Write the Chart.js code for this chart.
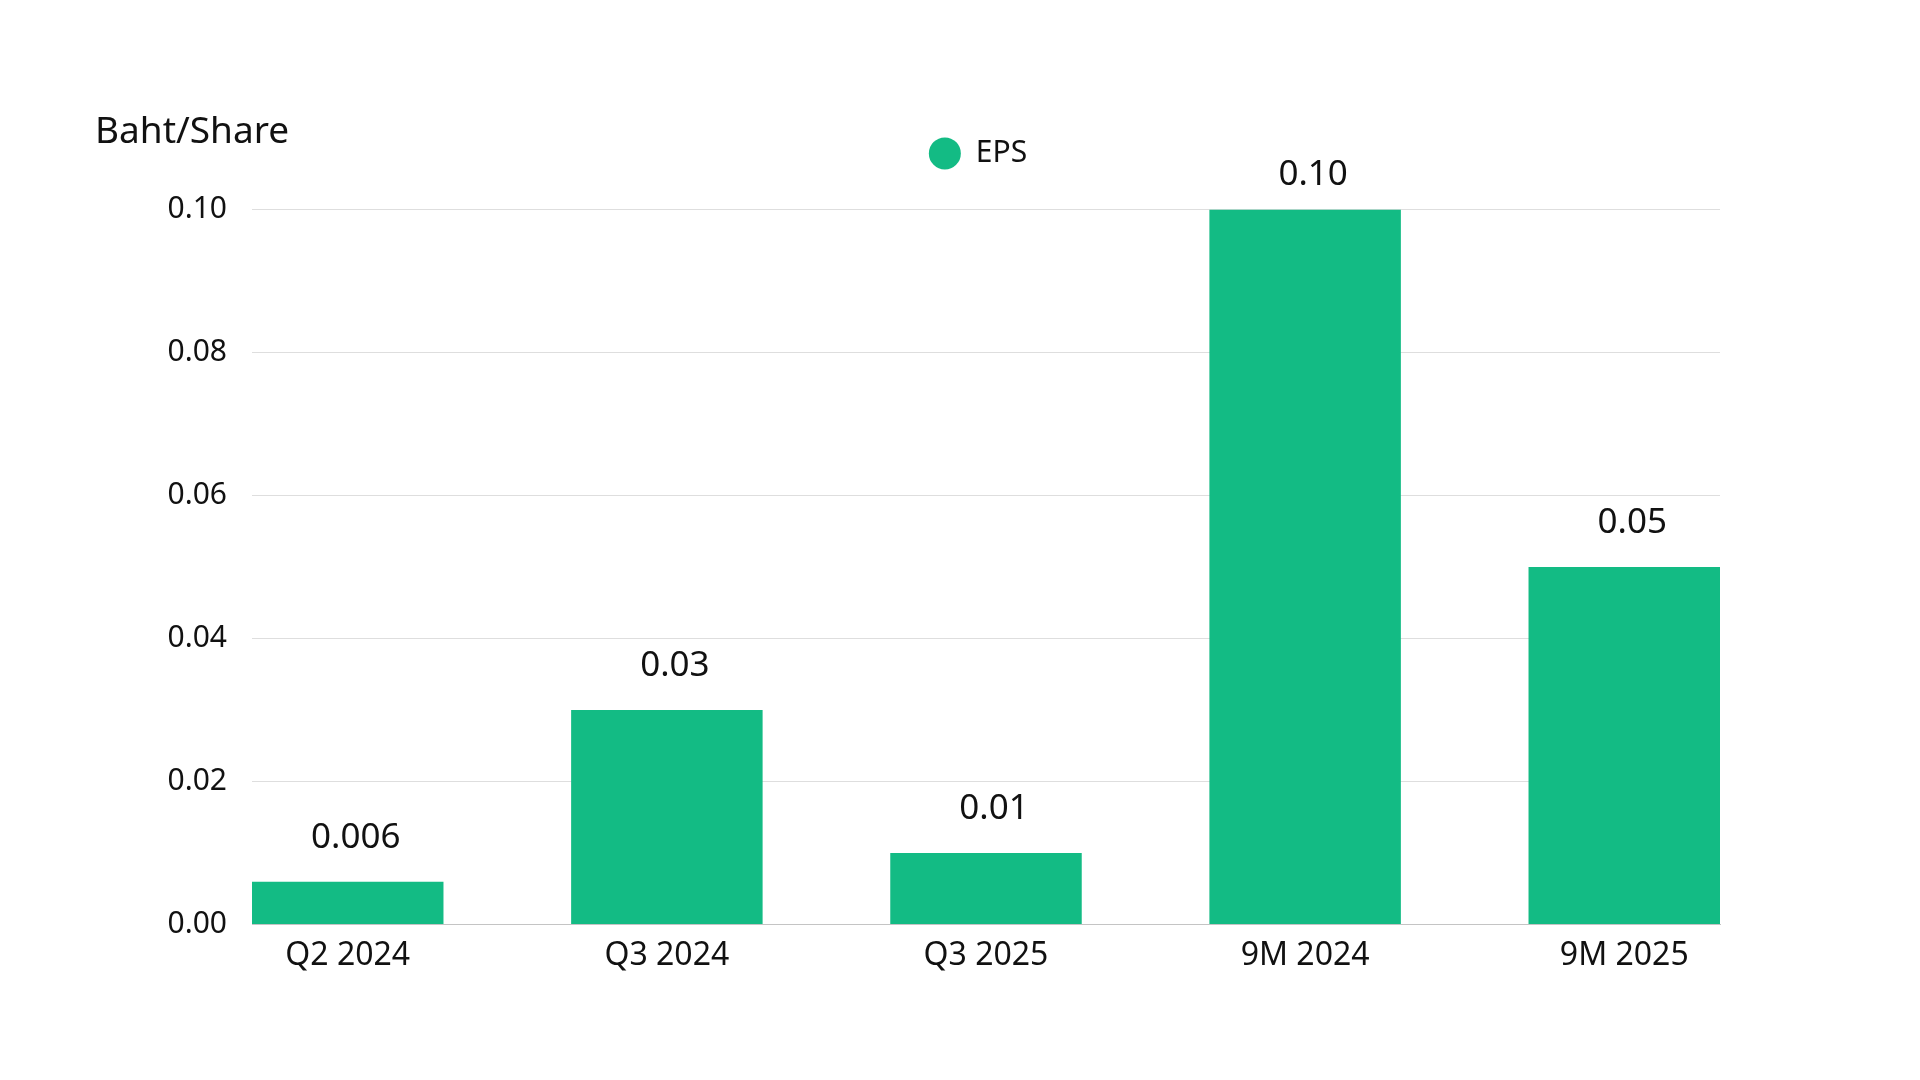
<!DOCTYPE html>
<html>
<head>
<meta charset="utf-8">
<title>EPS</title>
<script src="https://cdn.jsdelivr.net/npm/chart.js@4.4.1/dist/chart.umd.min.js"></script>
<style>
    html, body { margin: 0; padding: 0; background: #ffffff; }
    #wrap { width: 1920px; height: 1080px; }
</style>
</head>
<body>
<div id="wrap">
    <canvas id="myChart" width="1920" height="1080"></canvas>
</div>
<script>
// data
const categories = ["Q2 2024", "Q3 2024", "Q3 2025", "9M 2024", "9M 2025"];
const epsValues = [0.006, 0.03, 0.01, 0.10, 0.05];
const epsLabels = ["0.006", "0.03", "0.01", "0.10", "0.05"];
const yTicks = [0, 0.02, 0.04, 0.06, 0.08, 0.10];

const barColor = "#13bb84";
const textColor = "#111111";

Chart.defaults.font.family = '"Noto Sans", sans-serif';
Chart.defaults.color = textColor;

// value labels above every bar
const barValueLabels = {
    id: "barValueLabels",
    afterDatasetsDraw(chart) {
        const ctx = chart.ctx;
        const meta = chart.getDatasetMeta(0);
        ctx.save();
        ctx.font = '35px "Noto Sans", sans-serif';
        ctx.fillStyle = textColor;
        ctx.textAlign = "center";
        ctx.textBaseline = "alphabetic";
        meta.data.forEach((bar, i) => {
            const y = Math.max(bar.y - 34, chart.chartArea.top - 24);
            ctx.fillText(epsLabels[i], bar.x + 8, y);
        });
        ctx.restore();
    }
};

const ctx = document.getElementById("myChart").getContext("2d");
const myChart = new Chart(ctx, {
    type: "bar",
    data: {
        datasets: [{
            label: "EPS",
            data: categories.map((c, i) => ({ x: i, y: epsValues[i] })),
            backgroundColor: barColor,
            borderWidth: 0,
            barPercentage: 1,
            categoryPercentage: 0.6
        }]
    },
    options: {
        responsive: false,
        devicePixelRatio: 1,
        animation: false,
        layout: {
            padding: { left: 95, right: 59, top: 0, bottom: 101 }
        },
        plugins: {
            title: {
                display: true,
                text: "Baht/Share",
                align: "start",
                color: textColor,
                font: { size: 37, weight: "normal" },
                padding: { top: 110, bottom: -26 }
            },
            legend: {
                display: true,
                position: "top",
                labels: {
                    usePointStyle: true,
                    pointStyleWidth: 32,
                    pointStyle: "circle",
                    boxHeight: 22.6,
                    padding: 10,
                    color: textColor,
                    font: { size: 30 }
                }
            },
            tooltip: { enabled: false }
        },
        scales: {
            x: {
                type: "linear",
                position: "bottom",
                min: -0.3,
                max: 4.3,
                offset: false,
                grid: { display: false },
                border: { display: true, color: "#c4c4c4", width: 1 },
                ticks: {
                    stepSize: 1,
                    includeBounds: false,
                    autoSkip: false,
                    maxRotation: 0,
                    padding: 4,
                    color: textColor,
                    font: { size: 32 },
                    callback: (value) => categories[value] ?? ""
                }
            },
            xTop: {
                type: "linear",
                position: "top",
                display: true,
                grid: { display: false },
                border: { display: false },
                ticks: { display: false },
                afterFit: (scale) => { scale.height = 31; }
            },
            y: {
                min: 0,
                max: 0.1,
                position: "left",
                border: { display: false },
                grid: {
                    drawTicks: false,
                    color: (c) => (c.tick && c.tick.value === 0 ? "#c4c4c4" : "#dedede"),
                    lineWidth: 1
                },
                afterBuildTicks: (scale) => {
                    scale.ticks = yTicks.map(v => ({ value: v }));
                },
                ticks: {
                    padding: 25,
                    color: textColor,
                    font: { size: 30 },
                    callback: (value) => Number(value).toFixed(2)
                },
                afterFit: (scale) => { scale.width = 157; }
            },
            yRight: {
                type: "linear",
                position: "right",
                display: true,
                grid: { display: false },
                border: { display: false },
                ticks: { display: false },
                afterFit: (scale) => { scale.width = 141; }
            }
        }
    },
    plugins: [barValueLabels]
});
</script>
</body>
</html>
